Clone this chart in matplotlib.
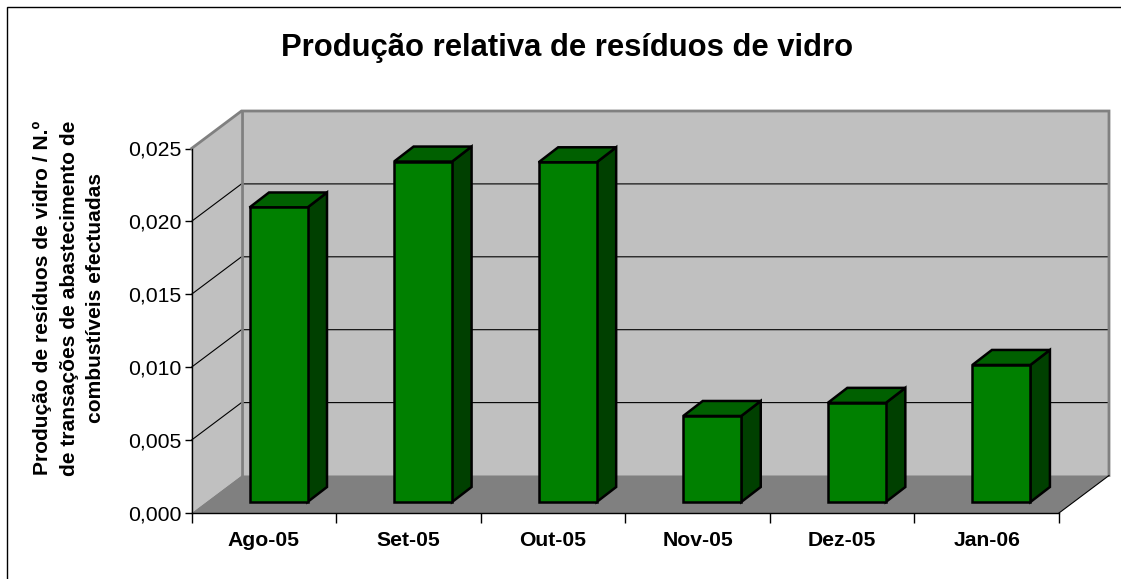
import matplotlib
matplotlib.use('Agg')
import matplotlib.pyplot as plt
from matplotlib.lines import Line2D
from matplotlib.patches import Polygon

# data
months = ['Ago-05', 'Set-05', 'Out-05', 'Nov-05', 'Dez-05', 'Jan-06']
values = [0.0202, 0.02335, 0.0233, 0.0059, 0.0068, 0.0094]
yticks = [0.000, 0.005, 0.010, 0.015, 0.020, 0.025]
ylabels = ['0,000', '0,005', '0,010', '0,015', '0,020', '0,025']

W, H = 1121, 579
plt.rcParams['font.family'] = ['Liberation Sans', 'DejaVu Sans']

fig = plt.figure(figsize=(W/100, H/100), dpi=100, facecolor='white')
# only the top and left of the chart border are in the picture
fig.add_artist(Line2D([6.5/W, 6.5/W, 1], [0, 1-6.5/H, 1-6.5/H], transform=fig.transFigure,
                      color='black', lw=1, solid_joinstyle='miter'))

# front plane of the 3d box, in pixels
left, right, top, bottom = 191.5, 1059, 148.5, 513
ax = fig.add_axes([left/W, 1-bottom/H, (right-left)/W, (bottom-top)/H])
ax.set_xlim(0, 6)
ax.set_ylim(0, 0.025)
ax.patch.set_alpha(0)
for s in ['top', 'right']:
    ax.spines[s].set_visible(False)
for s in ['left', 'bottom']:
    ax.spines[s].set_linewidth(1)

# depth of the box and of the bars, in data units
px_x = 6/(right-left)
px_y = 0.025/(bottom-top)
dx, dy = 50*px_x, 37.5*px_y
bdx, bdy = 19.5*px_x, 15*px_y
bar_w = 58*px_x
bar_x0 = 58*px_x
bar_y0 = 11*px_y

def poly(pts, fc, ec, lw, z):
    ax.add_patch(Polygon(pts, closed=True, fc=fc, ec=ec, lw=lw, zorder=z, clip_on=False,
                         joinstyle='miter'))

wall = '#c0c0c0'
edge = '#808080'
poly([(0, 0), (dx, dy), (dx, 0.025+dy), (0, 0.025)], wall, 'none', 0, 1)
poly([(dx, dy), (6+dx, dy), (6+dx, 0.025+dy), (dx, 0.025+dy)], wall, 'none', 0, 1)
poly([(0, 0), (6, 0), (6+dx, dy), (dx, dy)], edge, 'none', 0, 1.5)

# gridlines on side and back walls
for t in yticks[1:-1]:
    ax.plot([0, dx, 6+dx], [t, t+dy, t+dy], color='black', lw=0.8, zorder=2, clip_on=False)

# wall edges
ax.plot([0, dx, 6+dx, 6+dx], [0.025, 0.025+dy, 0.025+dy, dy], color=edge, lw=2, zorder=2,
        clip_on=False, solid_joinstyle='miter')
ax.plot([dx, dx], [dy, 0.025+dy], color=edge, lw=2, zorder=2, clip_on=False)
ax.plot([6, 6+dx], [0, dy], color='black', lw=0.8, zorder=2, clip_on=False)

# bars
for i, v in enumerate(values):
    x0 = i + bar_x0
    x1 = x0 + bar_w
    y0 = bar_y0
    y1 = y0 + v
    poly([(x1, y0), (x1+bdx, y0+bdy), (x1+bdx, y1+bdy), (x1, y1)], '#004000', 'black', 1.8, 3)
    poly([(x0, y1), (x1, y1), (x1+bdx, y1+bdy), (x0+bdx, y1+bdy)], '#006000', 'black', 1.8, 3)
    poly([(x0, y0), (x1, y0), (x1, y1), (x0, y1)], '#008000', 'black', 1.8, 4)

ax.set_xticks(range(7))
ax.set_xticklabels([])
ax.set_yticks(yticks)
ax.set_yticklabels(ylabels, fontsize=15.3)
ax.tick_params(axis='y', length=5, width=1, pad=2)
ax.tick_params(axis='x', length=7, width=1, direction='out')
for i, m in enumerate(months):
    ax.text(i+0.5, -0.00189, m, ha='center', va='center', fontsize=15.2, fontweight='bold')

fig.text(567/W, 1-48/H, 'Produção relativa de resíduos de vidro', ha='center', va='center',
         fontsize=22.3, fontweight='bold')
fig.text(69/W, 1-298/H, 'Produção de resíduos de vidro / N.º\nde transações de abastecimento de\ncombustíveis efectuadas',
         ha='center', va='center', rotation=90, fontsize=15.1, fontweight='bold', linespacing=1.48)

fig.savefig('out.png', dpi=100)
